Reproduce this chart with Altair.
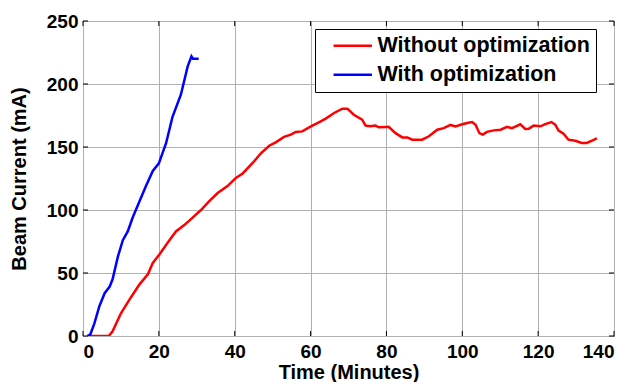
import altair as alt
import pandas as pd

# ---- data ----
with_x = [1.2, 1.9, 3.0, 4.3, 5.7, 7.0, 7.8, 9.2, 10.5, 11.8, 13.1, 14.9, 16.6, 18.4,
          20.0, 21.9, 23.6, 25.8, 27.6, 28.6, 29.0, 30.5]
with_y = [0, 1, 10, 23.5, 34, 39, 45, 63, 76, 83, 94, 107, 119, 131,
          137, 153, 174, 191.5, 214, 222, 220, 220]

without_x = [1.2, 6.8, 7.8, 10.0, 12.7, 14.9, 17.1, 18.4, 20.1, 22.3, 24.5, 26.7, 28.9,
             31.1, 33.3, 35.5, 38.1, 40.3, 42.1, 45.1, 46.9, 49.1, 50.8, 53.0, 54.8,
             56.1, 57.8, 60.1, 61.8, 64.0, 66.2, 68.4, 69.7, 71.4, 73.6, 74.5, 75.8,
             77.1, 78.0, 79.8, 80.6, 82.4, 84.2, 85.5, 86.8, 89.4, 91.2, 93.4, 95.1,
             96.9, 98.2, 100.0, 101.3, 102.6, 103.5, 104.5, 105.4, 106.5, 108.3, 110.1,
             111.8, 113.1, 115.3, 116.6, 117.5, 118.8, 120.6, 121.9, 123.5, 124.5,
             125.4, 126.7, 128.0, 129.8, 131.5, 132.8, 134.2, 135.5]
without_y = [0, 0, 3.7, 18, 31, 41, 49, 58, 64.5, 74, 83, 88, 94,
             100, 107, 113.5, 119, 125.5, 129, 138.6, 145, 151, 153.7, 158, 159.8,
             162, 162.4, 166.4, 169, 172.5, 177, 180.4, 180.4, 175.6, 171.7, 167, 166.4,
             167, 165.6, 165.9, 166, 161, 157.6, 157.6, 155.8, 155.8, 158.5, 163.7, 165,
             167.5, 166.4, 168, 169, 169.8, 167.7, 161, 159.8, 162, 163.2, 163.7,
             166, 165, 168, 164.3, 164.5, 167, 166.4, 168.2, 169.8, 167.7,
             163, 160.5, 155.8, 155, 153.2, 153.2, 155, 156.8]

series_names = ["Without optimization", "With optimization"]
series_colors = ["#ff0000", "#0000ff"]

x_ticks = [0, 20, 40, 60, 80, 100, 120, 140]
y_ticks = [0, 50, 100, 150, 200, 250]

W, H = 531, 315
FONT = "Liberation Sans"

df = pd.concat([
    pd.DataFrame({"t": without_x, "i": without_y, "s": series_names[0]}),
    pd.DataFrame({"t": with_x, "i": with_y, "s": series_names[1]}),
])

xscale = alt.Scale(domain=[0, 140], nice=False, zero=False)
yscale = alt.Scale(domain=[0, 250], nice=False)

lines = alt.Chart(df).mark_line(strokeWidth=2.5, clip=True).encode(
    x=alt.X("t:Q", scale=xscale,
            axis=alt.Axis(values=x_ticks, title="Time (Minutes)", titlePadding=1,
                          labelPadding=6)),
    y=alt.Y("i:Q", scale=yscale,
            axis=alt.Axis(values=y_ticks, title="Beam Current (mA)", titlePadding=17,
                          labelPadding=5)),
    color=alt.Color("s:N",
                    scale=alt.Scale(domain=series_names, range=series_colors),
                    legend=alt.Legend(title=None, orient="none", legendX=232, legendY=8,
                                      fillColor="white", strokeColor="black",
                                      padding=6, rowPadding=6,
                                      symbolType="M-3.2,0H3.2", symbolSize=144,
                                      symbolStrokeWidth=2.5, symbolOffset=21,
                                      labelOffset=14, labelFontSize=21.5,
                                      labelFont=FONT, labelFontWeight="bold",
                                      labelColor="black", labelLimit=400)),
    detail="s:N",
)

ydf = pd.DataFrame({"v": y_ticks})
xdf = pd.DataFrame({"v": x_ticks})
tick_style = dict(color="black", strokeWidth=1)
yl = alt.Chart(ydf).mark_rule(**tick_style).encode(
    y=alt.Y("v:Q", scale=yscale), x=alt.value(0), x2=alt.value(5))
yr = alt.Chart(ydf).mark_rule(**tick_style).encode(
    y=alt.Y("v:Q", scale=yscale), x=alt.value(W - 5), x2=alt.value(W))
xb = alt.Chart(xdf).mark_rule(**tick_style).encode(
    x=alt.X("v:Q", scale=xscale), y=alt.value(H - 5), y2=alt.value(H))
xt = alt.Chart(xdf).mark_rule(**tick_style).encode(
    x=alt.X("v:Q", scale=xscale), y=alt.value(0), y2=alt.value(5))

chart = alt.layer(lines, yl, yr, xb, xt).properties(
    width=W, height=H,
    autosize=alt.AutoSizeParams(type="none"),
    padding={"left": 75, "top": 13, "right": 11, "bottom": 46},
    background="white",
).configure_view(stroke="black", strokeWidth=1).configure_axis(
    grid=True, gridColor="#b0b0b0", gridWidth=1, ticks=False, domain=False,
    labelFont=FONT, labelFontSize=19, labelFontWeight="bold", labelColor="black",
    titleFont=FONT, titleFontSize=20, titleFontWeight="bold", titleColor="black",
)

chart.save("out.html", embed_options={"renderer": "svg", "actions": False})
